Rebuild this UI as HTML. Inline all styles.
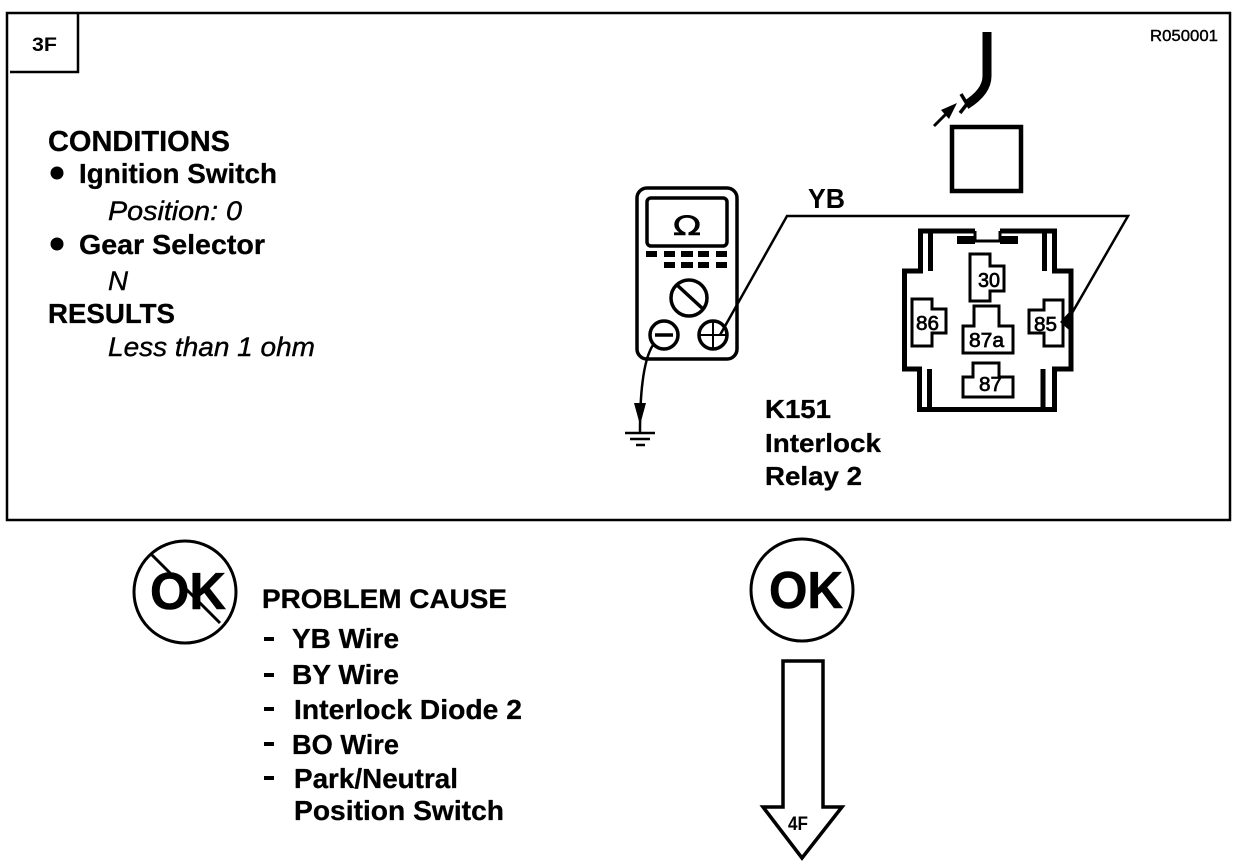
<!DOCTYPE html>
<html><head><meta charset="utf-8"><style>
html,body{margin:0;padding:0;background:#fff}
svg{display:block}
text{font-family:"Liberation Sans",sans-serif;font-weight:bold;fill:#000}
.b{font-size:28px;stroke:#000;stroke-width:.3}
.k{font-size:26px;stroke:#000;stroke-width:.3}
.i{font-size:27px;font-style:italic;font-weight:normal;stroke:#000;stroke-width:.4}
.t{font-size:20px;font-weight:normal;stroke:#000;stroke-width:.7}
</style></head><body>
<svg width="1248" height="866" viewBox="0 0 1248 866" xmlns="http://www.w3.org/2000/svg">
<g fill="none" stroke="#000">
<rect x="7" y="13" width="1223" height="507" stroke-width="2.5"/>
<path d="M10 72H78V13" stroke-width="2.5"/>
<!-- plug wire -->
<path d="M987 32V76Q987 92 966 105" stroke-width="9"/>
<path d="M961 94L967 104L960 113" stroke-width="3.5"/>
<path d="M934 126L950 110" stroke-width="3"/>
<rect x="952" y="127" width="69" height="64" stroke-width="4.5"/>
<!-- relay -->
<path d="M975 231H920.5V271H904.5V369H919.5V409.5H1054.5V369H1071V271H1054.5V231H1000" stroke-width="5"/>
<path d="M975 231V241H1000V231" stroke-width="3"/>
<path d="M930.5 231V271M929.5 369V409M1044.5 231V271M1043 369V409" stroke-width="5"/>
<g stroke-width="3">
<path d="M970 254H990V266H1004V291H990V301H970Z"/>
<path d="M912 299H932V309H946V333H932V346H912Z"/>
<path d="M1063 300H1044V310H1029V333H1044V346H1063Z"/>
<path d="M974 306H999V326H1013V353H963V326H974Z"/>
<path d="M973 363H999V377H1013V397H963V377H973Z"/>
</g>
<!-- meter -->
<rect x="637" y="188" width="100" height="171" rx="10" stroke-width="3.5"/>
<rect x="647" y="198" width="80" height="48" rx="4" stroke-width="3.5"/>
<circle cx="689" cy="298" r="18" stroke-width="3.5"/>
<path d="M677 285L702 308" stroke-width="3.5"/>
<circle cx="664" cy="335" r="14" stroke-width="3.5"/>
<path d="M655 335H673" stroke-width="3.5"/>
<circle cx="713" cy="335" r="14" stroke-width="3.5"/>
<path d="M699 335H727M713 321V349" stroke-width="2"/>
<!-- wires -->
<path d="M720 335L787 216H1128L1068 320" stroke-width="2.5"/>
<path d="M653 345Q640 365 640 432" stroke-width="2.5"/>
<path d="M625 433H655M630 439H650M636 445H645" stroke-width="2.5"/>
<!-- no OK -->
<circle cx="185" cy="592" r="51" stroke-width="3"/>
<path d="M152 555L220 623" stroke-width="3"/>
<circle cx="802" cy="590" r="51" stroke-width="3"/>
<path d="M783 661H823V807H842L802 858L763 807H783Z" stroke-width="3.5"/>
<path d="M264 639H274M264 675H274M264 709H274M264 744H274M264 778H274" stroke-width="4"/>
</g>
<g fill="#000">
<rect x="957" y="236" width="18" height="8"/>
<rect x="1000" y="236" width="18" height="8"/>
<path d="M1060 322L1072 309L1069 330Z"/>
<path d="M634 403H646L640 425Z"/>
<path d="M957 103L941 110L949 119Z"/>
<circle cx="57" cy="173" r="6.5"/>
<circle cx="57" cy="244" r="6.5"/>
<rect x="646" y="251" width="11" height="6"/><rect x="664" y="251" width="11" height="6"/><rect x="681" y="251" width="12" height="6"/><rect x="698" y="251" width="11" height="6"/><rect x="716" y="251" width="11" height="6"/>
<rect x="664" y="262" width="11" height="6"/><rect x="681" y="262" width="12" height="6"/><rect x="698" y="262" width="11" height="6"/><rect x="716" y="262" width="11" height="6"/>
</g>
<text x="1150" y="41" font-size="16" textLength="68" lengthAdjust="spacingAndGlyphs" style="font-weight:normal;stroke:#000;stroke-width:.4">R050001</text>
<text x="32" y="51" font-size="19" textLength="25" lengthAdjust="spacingAndGlyphs">3F</text>
<text class="b" style="font-size:29px" x="48" y="151" textLength="182" lengthAdjust="spacingAndGlyphs">CONDITIONS</text>
<text class="b" x="79" y="183" textLength="198" lengthAdjust="spacingAndGlyphs">Ignition Switch</text>
<text class="i" x="108" y="220" textLength="134" lengthAdjust="spacingAndGlyphs">Position: 0</text>
<text class="b" x="79" y="254" textLength="186" lengthAdjust="spacingAndGlyphs">Gear Selector</text>
<text class="i" x="108" y="290" textLength="20" lengthAdjust="spacingAndGlyphs">N</text>
<text class="b" x="48" y="323" textLength="127" lengthAdjust="spacingAndGlyphs">RESULTS</text>
<text class="i" x="108" y="356" textLength="207" lengthAdjust="spacingAndGlyphs">Less than 1 ohm</text>
<text x="808" y="208" font-size="28" textLength="37" lengthAdjust="spacingAndGlyphs">YB</text>
<text class="k" x="765" y="418" textLength="66" lengthAdjust="spacingAndGlyphs">K151</text>
<text class="k" x="765" y="452" textLength="116" lengthAdjust="spacingAndGlyphs">Interlock</text>
<text class="k" x="765" y="485" textLength="97" lengthAdjust="spacingAndGlyphs">Relay 2</text>
<text x="673" y="235" font-size="27" textLength="28" lengthAdjust="spacingAndGlyphs" style="font-family:'DejaVu Sans','Liberation Sans',sans-serif;font-weight:normal;stroke:#000;stroke-width:.6">Ω</text>
<text class="t" x="978" y="287" textLength="22" lengthAdjust="spacingAndGlyphs">30</text>
<text class="t" x="916" y="330" textLength="23" lengthAdjust="spacingAndGlyphs">86</text>
<text class="t" x="1034" y="331" textLength="23" lengthAdjust="spacingAndGlyphs">85</text>
<text class="t" x="969" y="347" textLength="35" lengthAdjust="spacingAndGlyphs">87a</text>
<text class="t" x="979" y="391" textLength="23" lengthAdjust="spacingAndGlyphs">87</text>
<text x="150" y="609" font-size="52" textLength="76" lengthAdjust="spacingAndGlyphs" stroke="#000" stroke-width=".6">OK</text>
<text x="769" y="608" font-size="52" textLength="74" lengthAdjust="spacingAndGlyphs" stroke="#000" stroke-width=".6">OK</text>
<text x="788" y="830" font-size="19" textLength="20" lengthAdjust="spacingAndGlyphs">4F</text>
<text class="b" style="font-size:27px" x="262" y="608" textLength="245" lengthAdjust="spacingAndGlyphs">PROBLEM CAUSE</text>
<text class="b" x="292" y="648" textLength="107" lengthAdjust="spacingAndGlyphs">YB Wire</text>
<text class="b" x="292" y="684" textLength="107" lengthAdjust="spacingAndGlyphs">BY Wire</text>
<text class="b" x="294" y="719" textLength="228" lengthAdjust="spacingAndGlyphs">Interlock Diode 2</text>
<text class="b" x="292" y="754" textLength="107" lengthAdjust="spacingAndGlyphs">BO Wire</text>
<text class="b" x="294" y="788" textLength="164" lengthAdjust="spacingAndGlyphs">Park/Neutral</text>
<text class="b" x="294" y="820" textLength="210" lengthAdjust="spacingAndGlyphs">Position Switch</text>
</svg>
</body></html>
